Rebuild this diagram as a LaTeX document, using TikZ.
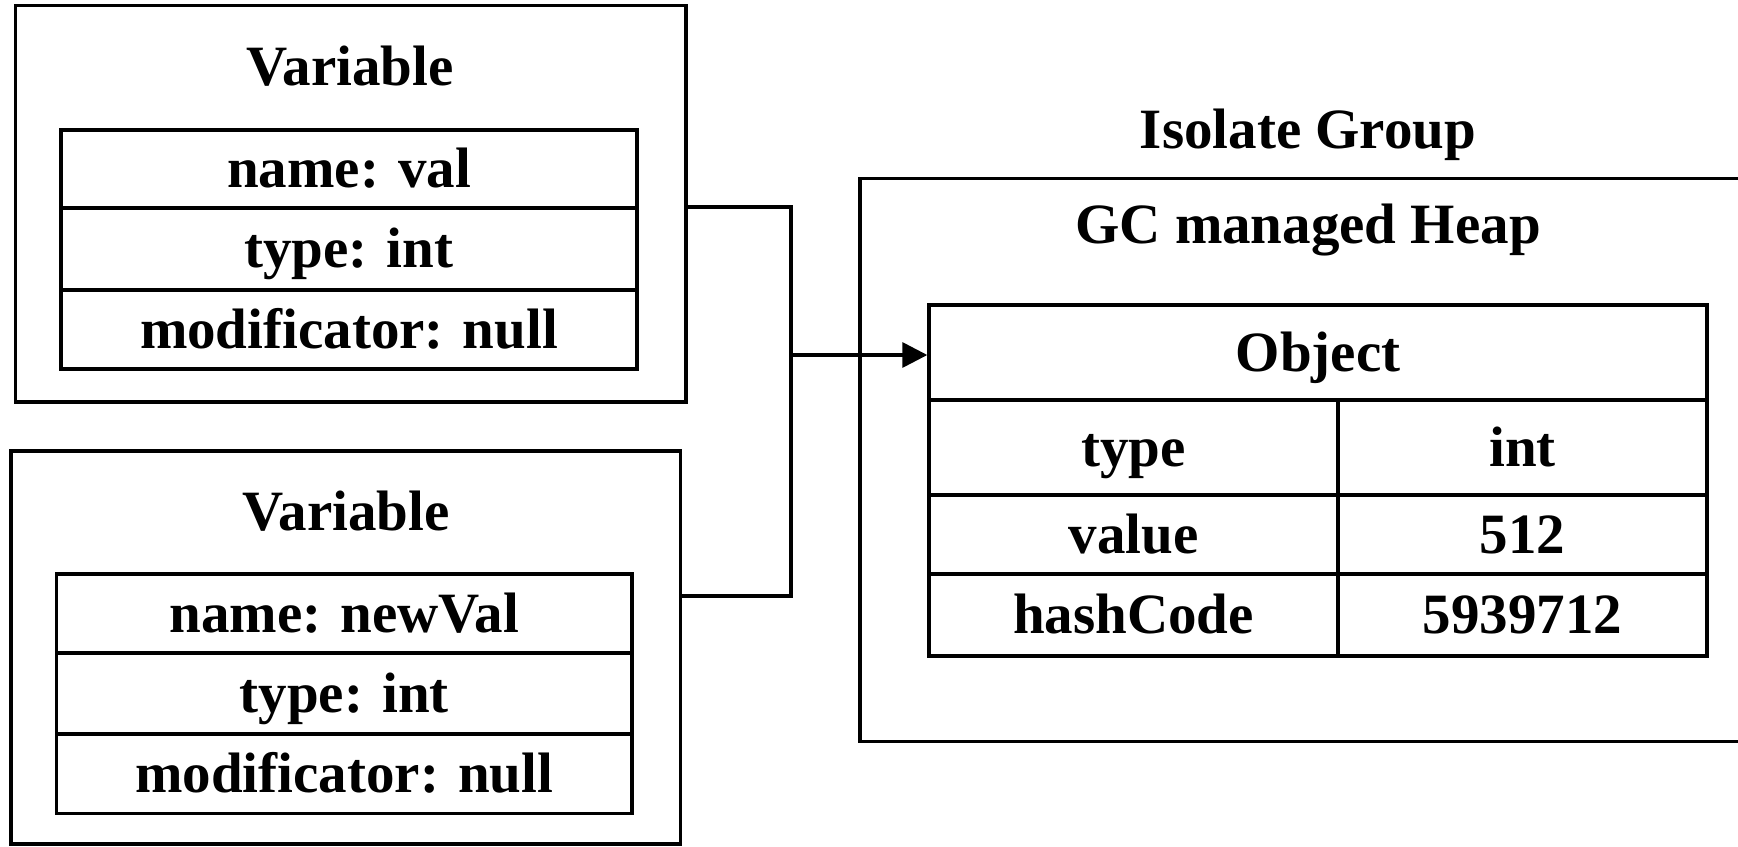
\documentclass[tikz,border=0pt]{standalone}
\usepackage{fontspec}
\setmainfont{Liberation Serif}
\usetikzlibrary{arrows.meta}
\begin{document}
\begin{tikzpicture}[x=0.5pt,y=-0.5pt,
  box/.style={draw, line width=1.7pt, inner sep=0pt},
  cell/.style={draw, line width=1.7pt, inner sep=0pt, text height=25pt, text depth=6.3pt, font=\fontsize{28.5}{34}\selectfont\bfseries},
  lbl/.style={inner sep=0pt, text height=25pt, text depth=6.3pt, font=\fontsize{28.5}{34}\selectfont\bfseries},
  conn/.style={line width=1.7pt},
  arr/.style={line width=1.7pt, -{Triangle[length=12.5pt,width=12.5pt]}}]
\useasboundingbox (0,0) rectangle (1738,846);
% top variable
\node[box, minimum width=335.25pt, minimum height=198.25pt] (box1) at (350.75,203.75) {};
\node[lbl] (t1) at (350,66.5) {Variable};
\node[cell, minimum width=288pt, minimum height=39pt] (a1) at (349,169) {name: val};
\node[cell, minimum width=288pt, minimum height=41pt] (a2) at (349,249) {type: int};
\node[cell, minimum width=288pt, minimum height=39.5pt] (a3) at (349,329.5) {modificator: null};
% bottom variable
\node[box, minimum width=334.75pt, minimum height=196.5pt] (box2) at (345.75,647.5) {};
\node[lbl] (t2) at (346,512) {Variable};
\node[cell, minimum width=287.75pt, minimum height=39.5pt] (b1) at (344.25,613.5) {name: newVal};
\node[cell, minimum width=287.75pt, minimum height=40.5pt] (b2) at (344.25,693.5) {type: int};
\node[cell, minimum width=287.75pt, minimum height=39.75pt] (b3) at (344.25,773.75) {modificator: null};
% isolate group
\node[lbl] (ig) at (1308,130) {Isolate Group};
\node[box, minimum width=442.5pt, minimum height=281.5pt] (heap) at (1302.5,460) {};
\node[lbl] (gc) at (1308,225) {GC managed Heap};
\node[cell, minimum width=389pt, minimum height=47.5pt] (obj) at (1318,352.5) {Object};
\node[cell, minimum width=204.5pt, minimum height=47.5pt] (c1) at (1133.5,447.5) {type};
\node[cell, minimum width=184.5pt, minimum height=47.5pt] (d1) at (1522.5,447.5) {int};
\node[cell, minimum width=204.5pt, minimum height=39.5pt] (c2) at (1133.5,534.5) {value};
\node[cell, minimum width=184.5pt, minimum height=39.5pt] (d2) at (1522.5,534.5) {512};
\node[cell, minimum width=204.5pt, minimum height=41pt] (c3) at (1133.5,615) {hashCode};
\node[cell, minimum width=184.5pt, minimum height=41pt] (d3) at (1522.5,615) {5939712};
% connectors
\coordinate (j1) at (791,207);
\coordinate (j2) at (791,596);
\coordinate (j3) at (791,355);
\draw[conn] (box1.east|-j1) -- (j1) -- (j2) -- (box2.east|-j2);
\draw[arr] (j3) -- (obj.west|-j3);
\end{tikzpicture}
\end{document}
